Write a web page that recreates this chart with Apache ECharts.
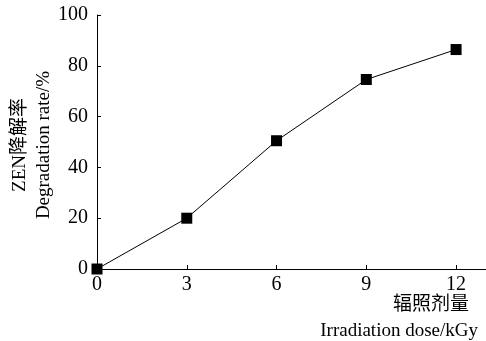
<!DOCTYPE html>
<html>
<head>
<meta charset="utf-8">
<script src="https://cdn.jsdelivr.net/npm/echarts@6/dist/echarts.min.js"></script>
<style>
  html, body { margin: 0; padding: 0; background: #fff; }
  #chart { width: 486px; height: 341px; }
</style>
</head>
<body>
<div id="chart"></div>
<script>
// Irradiation dose (kGy) and ZEN degradation rate (%)
const doses = [0, 3, 6, 9, 12];
const degradation = [0, 20, 50.5, 74.6, 86.4];
const xTicks = [0, 3, 6, 9, 12];
const yTicks = [0, 20, 40, 60, 80, 100];

const serif = '"Liberation Serif", "Times New Roman", "Noto Sans CJK SC", serif';

const chart = echarts.init(document.getElementById('chart'), null, { renderer: 'canvas' });

chart.setOption({
  animation: false,
  backgroundColor: '#fff',
  grid: { left: 97, right: 0, top: 15, bottom: 72, containLabel: false },
  xAxis: {
    type: 'value',
    min: 0,
    max: 13,
    splitLine: { show: false },
    axisLine: { show: true, onZero: false, lineStyle: { color: '#000', width: 1 } },
    axisTick: { show: true, inside: true, length: 4, customValues: xTicks, lineStyle: { color: '#000' } },
    axisLabel: { customValues: xTicks, margin: 6, color: '#000', fontFamily: serif, fontSize: 20 }
  },
  yAxis: {
    type: 'value',
    min: 0,
    max: 100,
    interval: 20,
    splitLine: { show: false },
    axisLine: { show: true, onZero: false, lineStyle: { color: '#000', width: 1 } },
    axisTick: { show: true, inside: true, length: 4, customValues: yTicks, lineStyle: { color: '#000' } },
    axisLabel: { margin: 9, color: '#000', fontFamily: serif, fontSize: 20 }
  },
  graphic: [
    {
      type: 'text', x: 20, y: 145, rotation: Math.PI / 2,
      style: { text: 'ZEN降解率', font: '19px ' + serif, fill: '#000', align: 'center', verticalAlign: 'middle' }
    },
    {
      type: 'text', x: 44, y: 145, rotation: Math.PI / 2,
      style: { text: 'Degradation rate/%', font: '19px ' + serif, fill: '#000', align: 'center', verticalAlign: 'middle' }
    },
    {
      type: 'text', x: 469, y: 305,
      style: { text: '辐照剂量', font: '19px ' + serif, fill: '#000', align: 'right', verticalAlign: 'middle' }
    },
    {
      type: 'text', x: 478, y: 331,
      style: { text: 'Irradiation dose/kGy', font: '19px ' + serif, fill: '#000', align: 'right', verticalAlign: 'middle' }
    }
  ],
  series: [{
    type: 'line',
    data: doses.map((d, i) => [d, degradation[i]]),
    clip: false,
    symbol: 'rect',
    symbolSize: 11,
    itemStyle: { color: '#000' },
    lineStyle: { color: '#000', width: 1 }
  }]
});
</script>
</body>
</html>
